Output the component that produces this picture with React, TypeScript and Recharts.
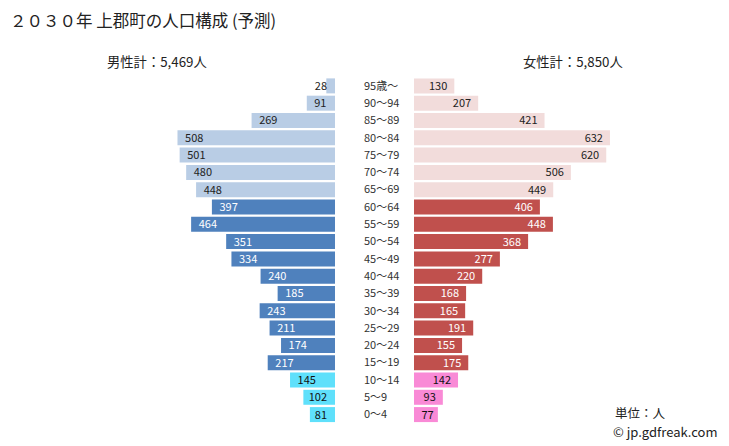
import React from "react";
import { BarChart, Bar, XAxis, YAxis, Cell, LabelList } from "recharts";

const ages = [
  "95歳～", "90～94", "85～89", "80～84", "75～79", "70～74", "65～69",
  "60～64", "55～59", "50～54", "45～49", "40～44", "35～39", "30～34",
  "25～29", "20～24", "15～19", "10～14", "5～9", "0～4",
];
const male = [28, 91, 269, 508, 501, 480, 448, 397, 464, 351, 334, 240, 185, 243, 211, 174, 217, 145, 102, 81];
const female = [130, 207, 421, 632, 620, 506, 449, 406, 448, 368, 277, 220, 168, 165, 191, 155, 175, 142, 93, 77];
const groups = ["old", "old", "old", "old", "old", "old", "old", "mid", "mid", "mid", "mid", "mid", "mid", "mid", "mid", "mid", "mid", "young", "young", "young"];

const maleColors: Record<string, string> = { old: "#b9cde5", mid: "#4f81bd", young: "#5fe0fb" };
const femaleColors: Record<string, string> = { old: "#f2dcdb", mid: "#c0504d", young: "#f98ad6" };
const labelColors: Record<string, string> = { old: "#222", mid: "#fff", young: "#111" };

const data = ages.map((age, i) => ({ age, male: male[i], female: female[i], group: groups[i] }));

const W = 729;
const H = 446;
const MAX = 645;
const FONT = "'Noto Sans CJK JP', 'Noto Sans', sans-serif";

const textWidth = (v: number) => String(v).length * 6.3;

const MaleLabel = (props: any) => {
  const { x, y, width, height, value, index } = props;
  const left = Math.min(x, x + width);
  const right = Math.max(x, x + width);
  const tw = textWidth(value);
  const endX = Math.min(left + 7 + tw, right - 8);
  return (
    <text x={endX} y={y + height / 2} dy={4} textAnchor="end" fontSize={11} fontFamily={FONT}
      fill={labelColors[groups[index]]}>
      {value}
    </text>
  );
};

const FemaleLabel = (props: any) => {
  const { x, y, width, height, value, index } = props;
  const left = Math.min(x, x + width);
  const right = Math.max(x, x + width);
  const tw = textWidth(value);
  const endX = Math.max(right - 7, left + 7 + tw);
  return (
    <text x={endX} y={y + height / 2} dy={4} textAnchor="end" fontSize={11} fontFamily={FONT}
      fill={labelColors[groups[index]]}>
      {value}
    </text>
  );
};

const AgeTick = (props: any) => {
  const { x, y, payload } = props;
  return (
    <text x={x - 50} y={y} dy={4} textAnchor="start" fontSize={11} fontFamily={FONT} fill="#333">
      {payload.value}
    </text>
  );
};

const txt = { position: "absolute" as const, color: "#222", whiteSpace: "nowrap" as const, lineHeight: 1 };

export default function App() {
  return (
    <div style={{ position: "absolute", left: 0, top: 0, width: W, height: H, background: "#fff", fontFamily: FONT }}>
      <div style={{ ...txt, left: 10, top: 12, fontSize: 16.5 }}>
        ２０３０年 上郡町の人口構成 (予測)
      </div>
      <div style={{ ...txt, left: 107, top: 55, fontSize: 13.3 }}>
        男性計：5,469人
      </div>
      <div style={{ ...txt, left: 523, top: 55, fontSize: 13.3 }}>
        女性計：5,850人
      </div>
      <div style={{ ...txt, left: 615, top: 407, fontSize: 12.5 }}>
        単位：人
      </div>
      <div style={{ ...txt, left: 613, top: 425, fontSize: 13 }}>
        © jp.gdfreak.com
      </div>

      <div style={{ position: "absolute", left: 0, top: 0 }}>
        <BarChart width={340} height={H} data={data} layout="vertical"
          margin={{ top: 77, right: 5, bottom: 23, left: 135 }} barCategoryGap="8%">
          <XAxis type="number" domain={[0, MAX]} reversed hide allowDataOverflow />
          <YAxis type="category" dataKey="age" hide />
          <Bar dataKey="male" isAnimationActive={false}>
            {data.map((d, i) => (
              <Cell key={i} fill={maleColors[d.group]} />
            ))}
            <LabelList dataKey="male" content={<MaleLabel />} />
          </Bar>
        </BarChart>
      </div>

      <div style={{ position: "absolute", left: 0, top: 0 }}>
        <BarChart width={W} height={H} data={data} layout="vertical"
          margin={{ top: 77, right: 115, bottom: 23, left: 364 }} barCategoryGap="8%">
          <XAxis type="number" domain={[0, MAX]} hide allowDataOverflow />
          <YAxis type="category" dataKey="age" width={50} axisLine={false} tickLine={false}
            tickSize={0} tickMargin={0} tick={<AgeTick />} interval={0} />
          <Bar dataKey="female" isAnimationActive={false}>
            {data.map((d, i) => (
              <Cell key={i} fill={femaleColors[d.group]} />
            ))}
            <LabelList dataKey="female" content={<FemaleLabel />} />
          </Bar>
        </BarChart>
      </div>
    </div>
  );
}
